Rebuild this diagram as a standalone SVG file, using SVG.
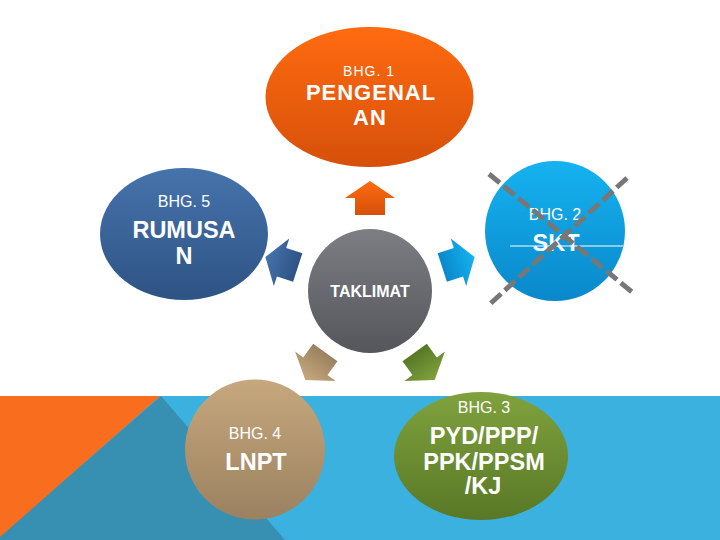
<svg xmlns="http://www.w3.org/2000/svg" xmlns:xlink="http://www.w3.org/1999/xlink" width="720" height="540" viewBox="0 0 720 540">
<style>
text{font-family:"Liberation Sans",Arial,sans-serif;fill:#ffffff;text-anchor:middle;font-weight:bold}
.sm{font-size:16px;font-weight:normal}
.lg{font-size:23.5px}
.cross{stroke:#777777;stroke-width:5;stroke-dasharray:14 5;fill:none}
</style>
<defs>
<linearGradient id="gOr" x1="0" y1="0" x2="0" y2="1"><stop offset="0" stop-color="#FF6B10"/><stop offset="1" stop-color="#D6500A"/></linearGradient>
<linearGradient id="gBl" x1="0" y1="0" x2="0" y2="1"><stop offset="0" stop-color="#4673AC"/><stop offset="1" stop-color="#2E5384"/></linearGradient>
<linearGradient id="gCy" x1="0" y1="0" x2="0" y2="1"><stop offset="0" stop-color="#16B2F0"/><stop offset="1" stop-color="#0988CA"/></linearGradient>
<linearGradient id="gGy" x1="0" y1="0" x2="0" y2="1"><stop offset="0" stop-color="#7C7E83"/><stop offset="1" stop-color="#55565B"/></linearGradient>
<linearGradient id="gTn" x1="0" y1="0" x2="0" y2="1"><stop offset="0" stop-color="#C7A87D"/><stop offset="1" stop-color="#9A8160"/></linearGradient>
<linearGradient id="gGr" x1="0" y1="0" x2="0" y2="1"><stop offset="0" stop-color="#80A23D"/><stop offset="1" stop-color="#587826"/></linearGradient>
<path id="arrow" d="M370,181 L395,198 L385,198 L385,215 L355,215 L355,198 L345,198 Z"/>
</defs>
<rect x="0" y="0" width="720" height="540" fill="#ffffff"/>
<g id="background">
<rect x="0" y="396" width="720" height="144" fill="#3AB1DF"/>
<polygon points="161,396 285,540 0,540 0,536" fill="#3790B2"/>
<polygon points="0,396 160,396 0,537" fill="#F86E1E"/>
</g>
<g id="connectors">
<use xlink:href="#arrow" fill="url(#gOr)"/>
<use xlink:href="#arrow" fill="url(#gCy)" transform="rotate(72 370 291)"/>
<use xlink:href="#arrow" fill="url(#gGr)" transform="rotate(144 370 291)"/>
<use xlink:href="#arrow" fill="url(#gTn)" transform="rotate(216 370 291)"/>
<use xlink:href="#arrow" fill="url(#gBl)" transform="rotate(288 370 291)"/>
</g>
<g id="node-bhg1">
<ellipse cx="369.5" cy="97" rx="104" ry="70" fill="url(#gOr)"/>
<text x="369" y="76" style="font-size:14px;font-weight:normal;letter-spacing:1px">BHG. 1</text>
<text x="371" y="100" style="font-size:22px;letter-spacing:1px">PENGENAL</text>
<text x="370" y="125" style="font-size:22px;letter-spacing:1px">AN</text>
</g>
<g id="node-bhg5">
<ellipse cx="184" cy="234" rx="84" ry="66" fill="url(#gBl)"/>
<text class="sm" x="184" y="207">BHG. 5</text>
<text class="lg" x="184" y="238">RUMUSA</text>
<text class="lg" x="184" y="264">N</text>
</g>
<g id="node-bhg2">
<circle cx="555" cy="231" r="70" fill="url(#gCy)"/>
<text class="sm" x="555" y="220">BHG. 2</text>
<text class="lg" x="556" y="251">SKT</text>
<line x1="510" y1="246" x2="623" y2="246" stroke="#ffffff" stroke-width="1.2"/>
</g>
<g id="node-taklimat">
<circle cx="370" cy="291" r="62" fill="url(#gGy)"/>
<text x="370" y="297" style="font-size:16px">TAKLIMAT</text>
</g>
<g id="node-bhg4">
<circle cx="255" cy="449.5" r="70" fill="url(#gTn)"/>
<text class="sm" x="255" y="439">BHG. 4</text>
<text class="lg" x="256" y="470">LNPT</text>
</g>
<g id="node-bhg3">
<ellipse cx="481" cy="456" rx="87" ry="64" fill="url(#gGr)"/>
<text class="sm" x="484" y="413">BHG. 3</text>
<text class="lg" x="484" y="444">PYD/PPP/</text>
<text class="lg" x="484" y="470">PPK/PPSM</text>
<text class="lg" x="483" y="494">/KJ</text>
</g>
<g id="cross">
<line class="cross" x1="489" y1="174" x2="632" y2="292"/>
<line class="cross" x1="627" y1="178" x2="490" y2="304"/>
</g>
</svg>
